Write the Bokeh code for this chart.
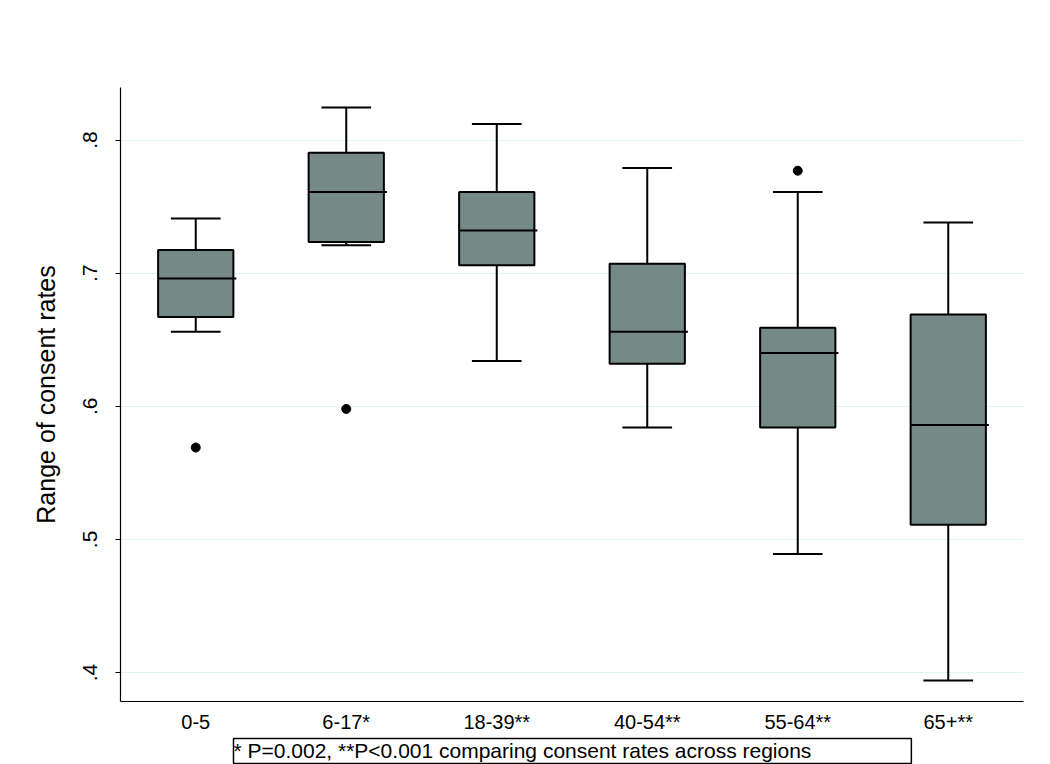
from bokeh.plotting import figure
from bokeh.models import ColumnDataSource, FactorRange, Range1d, FixedTicker, Title
from bokeh.transform import dodge
from bokeh.embed import file_html
from bokeh.resources import INLINE

# ---- data ----
categories = ["0-5", "6-17*", "18-39**", "40-54**", "55-64**", "65+**"]
lower_whisker = [0.656, 0.721, 0.634, 0.584, 0.489, 0.394]
q1 = [0.667, 0.7235, 0.706, 0.632, 0.584, 0.511]
median = [0.696, 0.761, 0.732, 0.656, 0.640, 0.586]
q3 = [0.7175, 0.7905, 0.761, 0.707, 0.659, 0.669]
upper_whisker = [0.741, 0.8245, 0.812, 0.779, 0.761, 0.738]
outlier_cats = ["0-5", "6-17*", "55-64**"]
outlier_vals = [0.569, 0.598, 0.777]
y_ticks = [0.4, 0.5, 0.6, 0.7, 0.8]
y_tick_labels = [".4", ".5", ".6", ".7", ".8"]
y_title = "Range of consent rates"
note_text = "* P=0.002, **P<0.001 comparing consent rates across regions"

FONT = "Liberation Sans"
BOX_FILL = "#758a87"
GRID = "#e2f3ef"
Y0, Y1 = 0.3782, 0.8395

src = ColumnDataSource(dict(cat=categories, lw=lower_whisker, q1=q1, med=median,
                            q3=q3, uw=upper_whisker))
out_src = ColumnDataSource(dict(cat=outlier_cats, val=outlier_vals))

p = figure(width=1050, height=764, output_backend="svg", toolbar_location=None,
           x_range=FactorRange(factors=categories, range_padding=0),
           y_range=Range1d(Y0, Y1),
           min_border_left=120, min_border_top=87, min_border_right=27, min_border_bottom=63)
p.outline_line_color = None
p.background_fill_color = "white"
p.border_fill_color = "white"

# grid
p.xgrid.grid_line_color = None
p.ygrid.ticker = FixedTicker(ticks=y_ticks)
p.ygrid.grid_line_color = GRID
p.ygrid.grid_line_width = 1.2

# y axis
ya = p.yaxis[0]
ya.ticker = FixedTicker(ticks=y_ticks)
ya.major_label_overrides = {t: l for t, l in zip(y_ticks, y_tick_labels)}
ya.major_label_orientation = "vertical"
ya.major_label_text_font = FONT
ya.major_label_text_font_size = "21px"
ya.major_label_text_color = "black"
ya.major_label_standoff = 18
ya.major_tick_out = 5
ya.major_tick_in = 0
ya.minor_tick_out = 0
ya.minor_tick_in = 0
ya.major_tick_line_color = "black"
ya.axis_line_color = "black"
ya.axis_line_width = 1.2
ya.axis_label = y_title
ya.axis_label_text_font = FONT
ya.axis_label_text_font_size = "25px"
ya.axis_label_text_font_style = "normal"
ya.axis_label_text_color = "black"
ya.axis_label_standoff = 21

# x axis
xa = p.xaxis[0]
xa.major_label_text_font = FONT
xa.major_label_text_font_size = "20px"
xa.major_label_text_color = "black"
xa.major_label_standoff = 9
xa.major_tick_out = 0
xa.major_tick_in = 0
xa.minor_tick_out = 0
xa.axis_line_color = "black"
xa.axis_line_width = 1.2

# whiskers
p.segment(x0="cat", y0="q3", x1="cat", y1="uw", source=src, line_color="black", line_width=2)
p.segment(x0="cat", y0="lw", x1="cat", y1="q1", source=src, line_color="black", line_width=2)
p.segment(x0=dodge("cat", -0.165, range=p.x_range), y0="uw",
          x1=dodge("cat", 0.165, range=p.x_range), y1="uw",
          source=src, line_color="black", line_width=2)
p.segment(x0=dodge("cat", -0.165, range=p.x_range), y0="lw",
          x1=dodge("cat", 0.165, range=p.x_range), y1="lw",
          source=src, line_color="black", line_width=2)
# boxes
p.vbar(x="cat", width=0.5, bottom="q1", top="q3", source=src,
       fill_color=BOX_FILL, line_color="black", line_width=2)
# medians
p.segment(x0=dodge("cat", -0.25, range=p.x_range), y0="med",
          x1=dodge("cat", 0.27, range=p.x_range), y1="med",
          source=src, line_color="black", line_width=2)
# outliers
p.scatter(x="cat", y="val", source=out_src, size=9, color="black")

# boxed note below the axis (padding: top, right, bottom, left)
note = Title(text=note_text, align="left", offset=113, standoff=2,
             text_font=FONT, text_font_size="21px", text_font_style="normal",
             text_color="black",
             border_line_color="black", border_line_width=1.5,
             background_fill_color="white",
             padding=(0, 100, 0, 2))
p.add_layout(note, "below")

open("out.html", "w").write(file_html(p, INLINE))
